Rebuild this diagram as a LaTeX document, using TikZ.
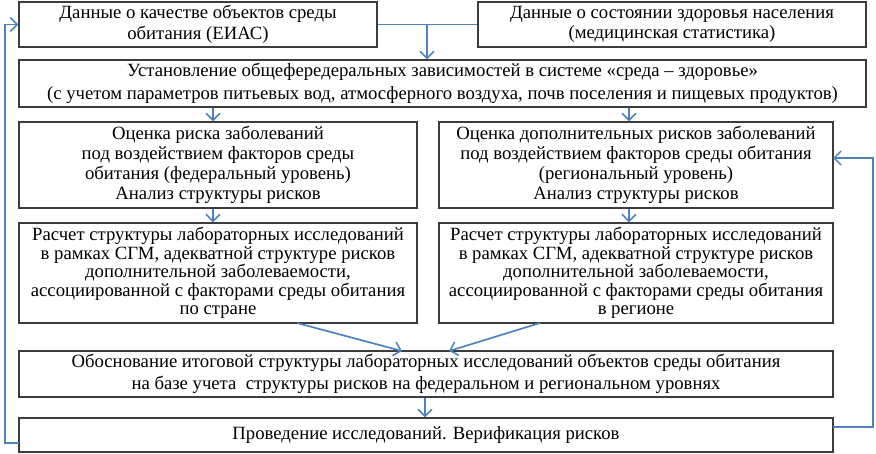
\documentclass[tikz,border=0pt]{standalone}
\usepackage{fontspec}
\setmainfont{Liberation Serif}
\usetikzlibrary{arrows.meta}
\definecolor{conn}{RGB}{79,129,189}
\definecolor{frame}{RGB}{60,60,60}
\begin{document}
\begin{tikzpicture}[x=1pt,y=-1pt,
  box/.style={draw=frame,line width=1.3pt,inner sep=0pt,align=center,
    font=\fontsize{18.7}{22}\selectfont},
  lead/.style={font=\fontsize{18.7}{#1}\selectfont},
  link/.style={draw=conn,line width=1.7pt},
  arr/.style={link,-{Straight Barb[length=7pt,width=14pt,line width=1.5pt]}}]
\useasboundingbox (0,0) rectangle (876,453);
\node[box,lead=20.5,minimum width=358,minimum height=45] (A) at (198,24.5)
  {Данные о качестве объектов среды\\обитания (ЕИАС)};
\node[box,lead=20.5,minimum width=388,minimum height=45] (B) at (672,24.5)
  {Данные о состоянии здоровья населения\\(медицинская статистика)};
\node[box,lead=23,minimum width=847,minimum height=47] (C) at (442.5,83.5)
  {Установление общефередеральных зависимостей в системе «среда – здоровье»\\(с учетом параметров питьевых вод, атмосферного воздуха, почв поселения и пищевых продуктов)};
\node[box,lead=20,minimum width=398,minimum height=86] (D) at (218,165)
  {Оценка риска заболеваний\\под воздействием факторов среды\\обитания (федеральный уровень)\\Анализ структуры рисков};
\node[box,lead=20,minimum width=394,minimum height=86] (E) at (636,165)
  {Оценка дополнительных рисков заболеваний\\под воздействием факторов среды обитания\\(региональный уровень)\\Анализ структуры рисков};
\node[box,lead=18.5,minimum width=398,minimum height=100] (F) at (218,273)
  {Расчет структуры лабораторных исследований\\в рамках СГМ, адекватной структуре рисков\\дополнительной заболеваемости,\\ассоциированной с факторами среды обитания\\по стране};
\node[box,lead=18.5,minimum width=394,minimum height=100] (G) at (636,273)
  {Расчет структуры лабораторных исследований\\в рамках СГМ, адекватной структуре рисков\\дополнительной заболеваемости,\\ассоциированной с факторами среды обитания\\в регионе};
\node[box,lead=21.5,minimum width=814,minimum height=46] (H) at (426,374)
  {Обоснование итоговой структуры лабораторных исследований объектов среды обитания\\на базе учета\ \ структуры рисков на федеральном и региональном уровнях};
\node[box,minimum width=814,minimum height=34] (I) at (426,435)
  {Проведение исследований. Верификация рисков};
% top merge
\coordinate (m) at (427,24.5);
\draw[link] (A.east) -- (B.west);
\draw[arr] (m) -- (m |- C.north);
% C to D, E
\coordinate (cd) at (213,107);
\coordinate (ce) at (629,107);
\draw[arr] (cd |- C.south) -- (cd |- D.north);
\draw[arr] (ce |- C.south) -- (ce |- E.north);
\draw[arr] (cd |- D.south) -- (cd |- F.north);
\draw[arr] (ce |- E.south) -- (ce |- G.north);
% F,G to H
\coordinate (fs) at (297,323);
\coordinate (ht1) at (402,351);
\coordinate (gs) at (540,323);
\coordinate (ht2) at (449,351);
\draw[arr] (fs) -- (ht1);
\draw[arr] (gs) -- (ht2);
% H to I
\coordinate (hi) at (425,397);
\draw[arr] (hi |- H.south) -- (hi |- I.north);
% feedback left
\coordinate (il) at (19,443);
\draw[arr] (il) -- (5,443) -- (5,24.5) -- (A.west);
% feedback right
\coordinate (ir) at (833,427);
\coordinate (er) at (833,158);
\draw[arr] (ir) -- (873,427) -- (873,158) -- (er);
\end{tikzpicture}
\end{document}
